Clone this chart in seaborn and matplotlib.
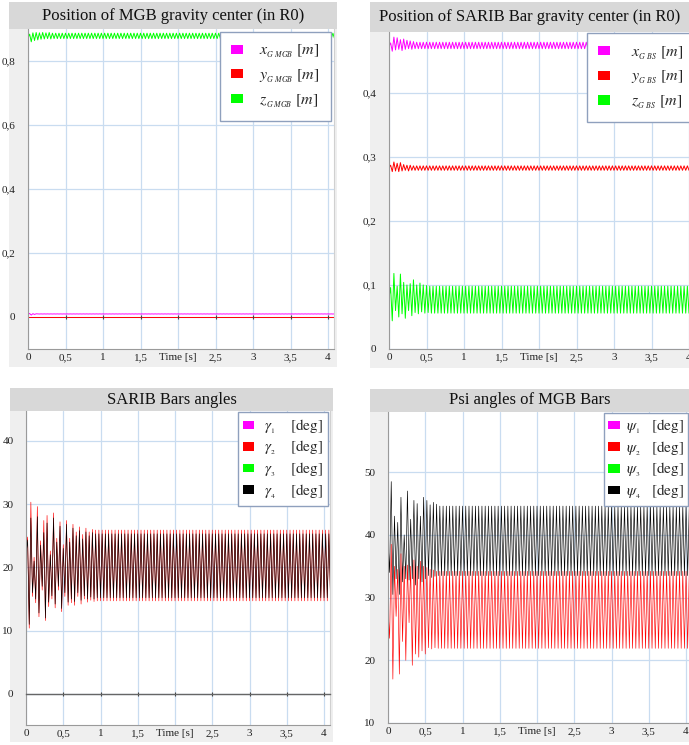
import numpy as np
import matplotlib
matplotlib.use('Agg')
import matplotlib.pyplot as plt
from matplotlib.patches import Rectangle, Patch
import seaborn as sns

# valeurs : extremums successifs (haut / bas) des oscillations
HALF = 1 / 46          # demi-periode ~ 23 Hz
N = 189                # nombre d'extremums jusqu'a ~4.08 s

# Position du CdG de la MGB
mgb_x_tr = [0.0092, 0.0110, 0.0060, 0.0105, 0.0080, 0.0100]
mgb_x_st = [0.0097, 0.0093]
mgb_y_tr = [0.0, 0.0]
mgb_y_st = [0.0, 0.0]
mgb_z_tr = [0.872, 0.884, 0.860, 0.888, 0.864, 0.889, 0.866, 0.888, 0.868, 0.889,
            0.869, 0.888, 0.870, 0.889, 0.869]
mgb_z_st = [0.887, 0.870]

# Position du CdG de la barre SARIB
bs_x_tr = [0.472, 0.478, 0.465, 0.487, 0.467, 0.486, 0.468, 0.483, 0.466, 0.484,
           0.468, 0.482, 0.469, 0.481, 0.468, 0.480, 0.469]
bs_x_st = [0.479, 0.469]
bs_y_tr = [0.283, 0.287, 0.277, 0.292, 0.278, 0.290, 0.277, 0.291, 0.278, 0.288,
           0.279, 0.287, 0.278, 0.287, 0.279]
bs_y_st = [0.286, 0.279]
bs_z_tr = [0.080, 0.096, 0.044, 0.118, 0.060, 0.098, 0.050, 0.117, 0.055, 0.104,
           0.048, 0.100, 0.060, 0.102, 0.052, 0.108, 0.057, 0.100, 0.055, 0.103,
           0.058, 0.100, 0.056, 0.099, 0.057]
bs_z_st = [0.098, 0.056]

# Angles des barres SARIB (gamma 1 et 3 restent sur l'axe 0)
g1_tr = [0.0, 0.0]
g1_st = [0.0, 0.0]
g3_tr = [0.0, 0.0]
g3_st = [0.0, 0.0]
g4_tr = [22.0, 24.3, 11.0, 27.8, 16.0, 21.0, 15.0, 28.0, 12.8, 23.5, 17.0, 25.5,
         12.0, 27.0, 14.5, 22.0, 15.5, 27.8, 14.2, 24.0, 17.0, 26.5, 13.5, 23.0,
         16.0, 26.8, 14.5, 24.0, 15.0, 26.2, 14.6, 25.0, 16.0, 25.8, 14.8, 24.5,
         15.5, 25.6, 15.0, 25.0, 15.3, 25.5, 15.0, 25.3, 15.2]
g4_st = [25.3, 15.2]
g2_tr = [22.2, 24.8, 10.4, 30.3, 15.4, 21.6, 14.4, 29.6, 12.2, 24.2, 16.4, 27.4,
         11.6, 28.2, 13.8, 22.6, 15.0, 28.6, 13.6, 24.6, 16.4, 27.2, 13.0, 23.6,
         15.4, 27.4, 14.0, 24.6, 14.4, 26.8, 14.0, 25.6, 15.4, 26.4, 14.2, 25.2,
         15.0, 26.2, 14.5, 25.6, 14.8, 26.0, 14.6, 25.9, 14.7]
g2_st = [25.9, 14.7]

# Angles psi des barres MGB (psi 1 et 3 hors de la fenetre)
p1_tr = [0.0, 0.0]
p1_st = [0.0, 0.0]
p3_tr = [0.0, 0.0]
p3_st = [0.0, 0.0]
p4_tr = [39.5, 34.0, 48.5, 30.5, 43.0, 33.0, 42.0, 30.5, 46.0, 32.5, 40.0, 33.0,
         47.0, 32.8, 42.5, 33.0, 45.5, 32.0, 45.0, 33.0, 43.0, 32.5, 46.0, 33.0,
         45.5, 33.5, 44.8, 33.2, 45.2, 33.4, 44.9, 33.5]
p4_st = [44.6, 33.5]
p2_tr = [28.2, 23.5, 38.5, 17.0, 35.0, 27.0, 34.5, 17.8, 37.0, 23.0, 35.0, 20.0,
         35.2, 26.0, 35.0, 19.2, 36.0, 21.0, 35.0, 20.5, 35.8, 21.5, 35.0, 21.0,
         34.8, 22.0, 34.5, 21.8, 34.4, 22.0]
p2_st = [34.2, 21.9]

x_ticks = [0, 0.5, 1, 1.5, 2, 2.5, 3, 3.5, 4]
x_tick_labels = ['0', '0,5', '1', '1,5', 'Time [s]', '2,5', '3', '3,5', '4']

MAGENTA, RED, GREEN, BLACK = '#ff00ff', '#ff0000', '#00ff00', '#000000'


def build(transient, steady, n=N):
    reps = (n - len(transient)) // 2 + 1
    return np.array(transient + steady * reps)[:n]


t = np.arange(N) * HALF

sns.set_theme(style='whitegrid')
plt.rcParams['font.family'] = ['Liberation Serif', 'DejaVu Serif']
plt.rcParams['mathtext.fontset'] = 'stix'

W, H = 689, 745
fig = plt.figure(figsize=(W / 100, H / 100), dpi=100)
fig.patch.set_facecolor('white')


def px_ax(left, top, right, bottom):
    return fig.add_axes([left / W, 1 - bottom / H, (right - left) / W, (bottom - top) / H])


def panel(x0, y0, x1, y1, bar_bottom, title):
    fig.add_artist(Rectangle((x0 / W, 1 - y1 / H), (x1 - x0) / W, (y1 - y0) / H,
                             transform=fig.transFigure, facecolor='#efefef',
                             edgecolor='none', zorder=-2))
    fig.add_artist(Rectangle((x0 / W, 1 - bar_bottom / H), (x1 - x0) / W,
                             (bar_bottom - y0) / H, transform=fig.transFigure,
                             facecolor='#d8d8d8', edgecolor='none', zorder=-1))
    fig.text((x0 + x1) / 2 / W, 1 - (y0 + bar_bottom) / 2 / H, title,
             ha='center', va='center', fontsize=12, color='#111111')


def style(ax, ylim, yticks, ylabels, zero_axis=None):
    ax.set_facecolor('white')
    ax.set_xlim(0, 4.08)
    ax.set_ylim(*ylim)
    ax.set_xticks(x_ticks)
    ax.set_xticklabels(x_tick_labels)
    ax.set_yticks(yticks)
    ax.set_yticklabels(ylabels)
    ax.grid(True, color='#c9dcf0', lw=0.9)
    ax.tick_params(axis='both', length=0, labelsize=8, colors='#222222')
    ax.tick_params(axis='x', pad=3)
    ax.tick_params(axis='y', pad=9)
    ax.spines['top'].set_visible(False)
    ax.spines['left'].set_color('#9a9a9a')
    ax.spines['bottom'].set_color('#9a9a9a')
    ax.spines['right'].set_color('#d0d0d0')
    for s in ['left', 'bottom', 'right']:
        ax.spines[s].set_linewidth(0.8)
    if zero_axis is not None:
        sec = ax.secondary_xaxis(0, transform=ax.transData)
        sec.set_zorder(4)
        sec.set_xticks(x_ticks[1:])
        sec.tick_params(axis='x', direction='inout', length=3, width=0.8,
                        colors='#444444', labelbottom=False)
        sec.spines['bottom'].set_color('#666666')
        sec.spines['bottom'].set_linewidth(1.0)
        sec.spines['bottom'].set_visible(zero_axis)


def draw(ax, series, colors, lw=0.7):
    for vals, c in zip(series, colors):
        sns.lineplot(x=t, y=vals, color=c, lw=lw, ax=ax, estimator=None,
                     sort=False, legend=False)


def add_legend(ax, labels, colors, anchor, loc, spacing, fs, pad=0.6, textpad=0.6):
    handles = [Patch(facecolor=c, edgecolor='none') for c in colors]
    leg = ax.legend(handles, labels, loc=loc, bbox_to_anchor=anchor, fontsize=fs,
                    frameon=True, fancybox=False, framealpha=1, facecolor='white',
                    edgecolor='#8fa0bd', handlelength=0.75, handleheight=0.5,
                    handletextpad=textpad, labelspacing=spacing, borderpad=pad,
                    borderaxespad=0)
    leg.get_frame().set_linewidth(1.0)
    leg.set_zorder(10)


# --- panneau haut gauche
panel(9, 2, 337, 367, 29, 'Position of MGB gravity center (in R0)')
ax1 = px_ax(28, 29, 334, 349)
draw(ax1, [build(mgb_y_tr, mgb_y_st), build(mgb_x_tr, mgb_x_st),
           build(mgb_z_tr, mgb_z_st)], [RED, MAGENTA, GREEN])
style(ax1, (-0.1, 0.9), [0, 0.2, 0.4, 0.6, 0.8], ['0', '0,2', '0,4', '0,6', '0,8'],
      zero_axis=False)
add_legend(ax1, [r'$\ \ x_{_{G\ MGB}}\ \left[m\right]$',
                 r'$\ \ y_{_{G\ MGB}}\ \left[m\right]$',
                 r'$\ \ z_{_{G\ MGB}}\ \left[m\right]$'],
           [MAGENTA, RED, GREEN], (0.99, 0.992), 'upper right', 0.45, 11.5, pad=0.7)

# --- panneau haut droit
panel(370, 2, 689, 368, 32, 'Position of SARIB Bar gravity center (in R0)')
ax2 = px_ax(389, 32, 695, 349)
draw(ax2, [build(bs_x_tr, bs_x_st), build(bs_y_tr, bs_y_st),
           build(bs_z_tr, bs_z_st)], [MAGENTA, RED, GREEN])
style(ax2, (0, 0.495), [0, 0.1, 0.2, 0.3, 0.4], ['0', '0,1', '0,2', '0,3', '0,4'])
add_legend(ax2, [r'$\ \ \ x_{_{G\ BS}}\ \left[m\right]\ \ \ \ \ $',
                 r'$\ \ \ y_{_{G\ BS}}\ \left[m\right]\ \ \ \ \ $',
                 r'$\ \ \ z_{_{G\ BS}}\ \left[m\right]\ \ \ \ \ $'],
           [MAGENTA, RED, GREEN], (0.647, 0.997), 'upper left', 0.45, 11.5, pad=0.7)

# --- panneau bas gauche
panel(10, 388, 333, 742, 411, 'SARIB Bars angles')
ax3 = px_ax(26, 411, 330, 725)
draw(ax3, [build(g1_tr, g1_st), build(g3_tr, g3_st),
           build(g2_tr, g2_st), build(g4_tr, g4_st)],
     [MAGENTA, GREEN, RED, BLACK], lw=0.45)
style(ax3, (-4.9, 44.7), [0, 10, 20, 30, 40], ['0', '10', '20', '30', '40'],
      zero_axis=True)
add_legend(ax3, [r'$\gamma_{_1}\quad\ \left[\mathrm{deg}\right]$',
                 r'$\gamma_{_2}\quad\ \left[\mathrm{deg}\right]$',
                 r'$\gamma_{_3}\quad\ \left[\mathrm{deg}\right]$',
                 r'$\gamma_{_4}\quad\ \left[\mathrm{deg}\right]$'],
           [MAGENTA, RED, GREEN, BLACK], (0.993, 0.997), 'upper right', 0.2, 11, pad=0.35)

# --- panneau bas droit
panel(370, 389, 689, 742, 412, 'Psi angles of MGB Bars')
ax4 = px_ax(388, 412, 692, 723)
draw(ax4, [build(p1_tr, p1_st), build(p3_tr, p3_st),
           build(p4_tr, p4_st), build(p2_tr, p2_st)],
     [MAGENTA, GREEN, BLACK, RED], lw=0.45)
style(ax4, (10, 59.6), [10, 20, 30, 40, 50], ['10', '20', '30', '40', '50'])
add_legend(ax4, [r'$\psi_{_1}\ \ \ \left[\mathrm{deg}\right]$',
                 r'$\psi_{_2}\ \ \ \left[\mathrm{deg}\right]$',
                 r'$\psi_{_3}\ \ \ \left[\mathrm{deg}\right]$',
                 r'$\psi_{_4}\ \ \ \left[\mathrm{deg}\right]$'],
           [MAGENTA, RED, GREEN, BLACK], (0.71, 0.997), 'upper left', 0.2, 11,
           pad=0.3, textpad=0.4)

fig.savefig('out.png', dpi=100)
